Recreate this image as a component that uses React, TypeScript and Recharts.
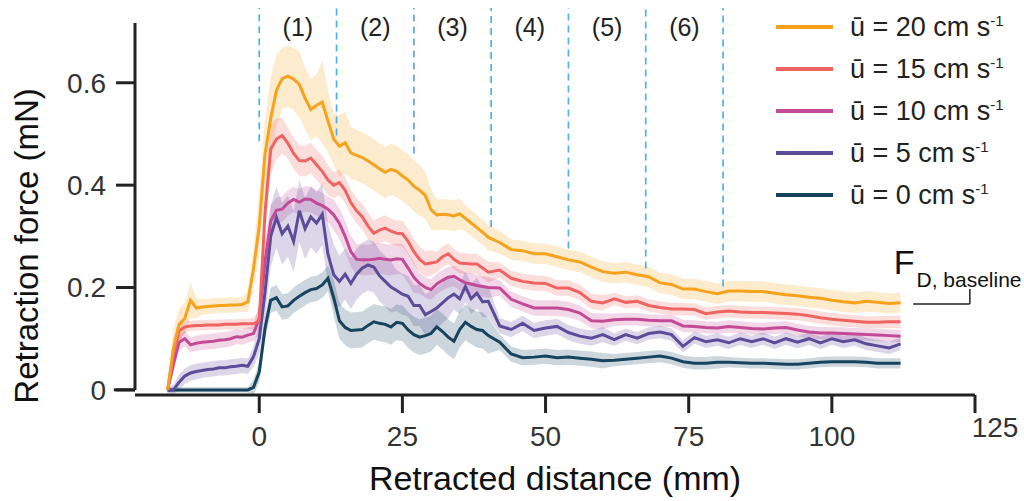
import React from "react";
import {
  ComposedChart,
  Line,
  Area,
  XAxis,
  YAxis,
  ReferenceLine,
  ReferenceArea,
  ReferenceDot,
} from "recharts";

// retracted distance (mm)
const distance = [
  -16, -15, -14, -13, -12, -11, -10, -9, -8, -7,
  -6, -5, -4, -3, -2, -1, 0, 1, 2, 3,
  4, 5, 6, 7, 8, 9, 10, 11, 12, 13,
  14, 15, 16, 17, 18, 19, 20, 21, 22, 23,
  24, 25, 26, 27, 28, 29, 30, 31, 32, 33,
  34, 35, 36, 37, 38, 39, 40,
  42, 44, 46, 48, 50, 52, 54, 56, 58, 60,
  62, 64, 66, 68, 70, 72, 74, 76, 78, 80,
  82, 84, 86, 88, 90, 92, 94, 96, 98, 100,
  102, 104, 106, 108, 110, 112,
];

// mean retraction force (mN) and its spread, per flow speed
const u20 = [
  0, 0.08, 0.128, 0.14, 0.175, 0.16, 0.162, 0.163, 0.164, 0.165,
  0.165, 0.166, 0.166, 0.167, 0.172, 0.237, 0.32, 0.46, 0.53, 0.585,
  0.608, 0.613, 0.607, 0.597, 0.57, 0.548, 0.556, 0.562, 0.525, 0.49,
  0.476, 0.483, 0.463, 0.458, 0.454, 0.447, 0.44, 0.432, 0.425, 0.431,
  0.427, 0.418, 0.41, 0.398, 0.39, 0.38, 0.352, 0.342, 0.343, 0.342,
  0.34, 0.344, 0.335, 0.326, 0.317, 0.308, 0.298,
  0.288, 0.274, 0.272, 0.266, 0.266, 0.26, 0.254, 0.25, 0.24, 0.231,
  0.228, 0.23, 0.225, 0.221, 0.209, 0.206, 0.197, 0.197, 0.192, 0.188,
  0.193, 0.193, 0.192, 0.192, 0.189, 0.186, 0.184, 0.181, 0.179, 0.175,
  0.172, 0.17, 0.173, 0.171, 0.169, 0.17,
];
const u20Spread = [
  0.01, 0.04, 0.03, 0.03, 0.035, 0.02, 0.015, 0.015, 0.015, 0.015,
  0.015, 0.015, 0.015, 0.015, 0.02, 0.04, 0.06, 0.07, 0.08, 0.07,
  0.06, 0.06, 0.06, 0.065, 0.06, 0.06, 0.06, 0.08, 0.06, 0.05,
  0.06, 0.06, 0.05, 0.05, 0.05, 0.05, 0.05, 0.05, 0.05, 0.05,
  0.05, 0.05, 0.05, 0.05, 0.05, 0.045, 0.04, 0.03, 0.03, 0.03,
  0.03, 0.03, 0.025, 0.025, 0.025, 0.025, 0.025,
  0.022, 0.02, 0.02, 0.02, 0.02, 0.02, 0.02, 0.02, 0.02, 0.02,
  0.02, 0.02, 0.02, 0.02, 0.02, 0.02, 0.02, 0.02, 0.02, 0.02,
  0.02, 0.02, 0.02, 0.02, 0.02, 0.02, 0.02, 0.02, 0.02, 0.02,
  0.02, 0.02, 0.02, 0.02, 0.02, 0.02,
];

const u15 = [
  0, 0.07, 0.115, 0.123, 0.125, 0.126, 0.126, 0.127, 0.127, 0.127,
  0.128, 0.128, 0.128, 0.129, 0.129, 0.129, 0.135, 0.345, 0.47, 0.49,
  0.497, 0.482, 0.462, 0.448, 0.447, 0.453, 0.44, 0.427, 0.41, 0.4,
  0.405, 0.39, 0.366, 0.35, 0.338, 0.32, 0.306, 0.312, 0.316, 0.31,
  0.306, 0.305, 0.29, 0.27, 0.255, 0.246, 0.248, 0.25, 0.26, 0.266,
  0.255, 0.248, 0.247, 0.246, 0.246, 0.238, 0.23,
  0.234, 0.218, 0.212, 0.209, 0.208, 0.199, 0.199, 0.19, 0.173, 0.17,
  0.178, 0.171, 0.173, 0.165, 0.161, 0.158, 0.158, 0.157, 0.149, 0.152,
  0.154, 0.152, 0.151, 0.151, 0.15, 0.149, 0.148, 0.145, 0.141, 0.138,
  0.136, 0.134, 0.132, 0.132, 0.133, 0.133,
];
const u15Spread = [
  0.005, 0.03, 0.02, 0.012, 0.01, 0.01, 0.01, 0.01, 0.01, 0.01,
  0.01, 0.01, 0.01, 0.01, 0.01, 0.012, 0.02, 0.05, 0.05, 0.04,
  0.035, 0.03, 0.03, 0.03, 0.03, 0.03, 0.03, 0.03, 0.03, 0.025,
  0.025, 0.025, 0.025, 0.025, 0.025, 0.025, 0.025, 0.025, 0.025, 0.025,
  0.025, 0.025, 0.025, 0.025, 0.025, 0.025, 0.025, 0.02, 0.02, 0.02,
  0.02, 0.02, 0.02, 0.02, 0.02, 0.02, 0.02,
  0.015, 0.015, 0.015, 0.015, 0.015, 0.015, 0.015, 0.015, 0.015, 0.015,
  0.012, 0.012, 0.012, 0.012, 0.012, 0.012, 0.012, 0.012, 0.012, 0.012,
  0.012, 0.012, 0.012, 0.012, 0.012, 0.012, 0.012, 0.012, 0.012, 0.012,
  0.012, 0.012, 0.012, 0.012, 0.012, 0.012,
];

const u10 = [
  0, 0.05, 0.093, 0.1, 0.088, 0.091, 0.093, 0.094, 0.095, 0.097,
  0.098, 0.1, 0.104, 0.103, 0.107, 0.11, 0.14, 0.25, 0.33, 0.351,
  0.353, 0.365, 0.372, 0.367, 0.373, 0.372, 0.365, 0.36, 0.353, 0.342,
  0.325, 0.3, 0.27, 0.255, 0.254, 0.254, 0.255, 0.257, 0.255, 0.254,
  0.256, 0.255, 0.238, 0.22, 0.208, 0.2, 0.196, 0.207, 0.214, 0.22,
  0.222, 0.215, 0.209, 0.207, 0.204, 0.202, 0.2,
  0.199, 0.177, 0.168, 0.16, 0.16, 0.16, 0.157, 0.15, 0.135, 0.134,
  0.137, 0.138, 0.138, 0.136, 0.135, 0.135, 0.125, 0.124, 0.122, 0.121,
  0.124, 0.122, 0.12, 0.119, 0.121, 0.122, 0.117, 0.113, 0.111, 0.111,
  0.11, 0.109, 0.108, 0.107, 0.106, 0.105,
];
const u10Spread = [
  0.005, 0.02, 0.015, 0.015, 0.015, 0.015, 0.015, 0.015, 0.015, 0.015,
  0.015, 0.015, 0.015, 0.015, 0.015, 0.015, 0.03, 0.04, 0.03, 0.025,
  0.025, 0.025, 0.025, 0.025, 0.025, 0.025, 0.025, 0.025, 0.025, 0.03,
  0.03, 0.03, 0.03, 0.03, 0.03, 0.03, 0.03, 0.03, 0.03, 0.03,
  0.03, 0.03, 0.03, 0.03, 0.02, 0.02, 0.02, 0.02, 0.02, 0.02,
  0.02, 0.02, 0.02, 0.02, 0.02, 0.02, 0.02,
  0.015, 0.015, 0.015, 0.015, 0.015, 0.015, 0.015, 0.015, 0.015, 0.015,
  0.012, 0.012, 0.012, 0.012, 0.012, 0.012, 0.012, 0.012, 0.012, 0.012,
  0.012, 0.012, 0.012, 0.012, 0.012, 0.012, 0.012, 0.012, 0.012, 0.012,
  0.012, 0.012, 0.012, 0.012, 0.012, 0.012,
];

const u5 = [
  0, 0, 0.015, 0.027, 0.033, 0.036, 0.038, 0.04, 0.041, 0.043,
  0.043, 0.045, 0.046, 0.048, 0.046, 0.065, 0.1, 0.19, 0.3, 0.337,
  0.305, 0.32, 0.29, 0.35, 0.315, 0.338, 0.326, 0.343, 0.265, 0.225,
  0.212, 0.226, 0.208, 0.226, 0.238, 0.244, 0.24, 0.223, 0.212, 0.201,
  0.194, 0.187, 0.183, 0.165, 0.165, 0.147, 0.153, 0.16, 0.17, 0.18,
  0.187, 0.178, 0.202, 0.178, 0.189, 0.172, 0.173,
  0.125, 0.118, 0.13, 0.116, 0.121, 0.124, 0.112, 0.105, 0.101, 0.108,
  0.098, 0.108, 0.101, 0.11, 0.113, 0.108, 0.085, 0.102, 0.094, 0.098,
  0.092, 0.1, 0.094, 0.1, 0.092, 0.1, 0.093, 0.1, 0.092, 0.1,
  0.094, 0.098, 0.09, 0.086, 0.082, 0.09,
];
const u5Spread = [
  0.005, 0.01, 0.015, 0.015, 0.015, 0.015, 0.015, 0.015, 0.015, 0.015,
  0.015, 0.015, 0.015, 0.015, 0.015, 0.02, 0.03, 0.05, 0.06, 0.06,
  0.06, 0.06, 0.06, 0.06, 0.06, 0.06, 0.06, 0.06, 0.06, 0.06,
  0.05, 0.05, 0.05, 0.05, 0.05, 0.05, 0.05, 0.05, 0.05, 0.05,
  0.04, 0.04, 0.04, 0.04, 0.04, 0.04, 0.04, 0.04, 0.04, 0.04,
  0.03, 0.03, 0.03, 0.03, 0.03, 0.03, 0.03,
  0.015, 0.015, 0.015, 0.015, 0.015, 0.015, 0.015, 0.015, 0.015, 0.015,
  0.012, 0.012, 0.012, 0.012, 0.012, 0.012, 0.012, 0.012, 0.012, 0.012,
  0.012, 0.012, 0.012, 0.012, 0.012, 0.012, 0.012, 0.012, 0.012, 0.012,
  0.012, 0.012, 0.012, 0.012, 0.012, 0.012,
];

const u0 = [
  0, 0, 0, 0, 0, 0, 0, 0, 0, 0,
  0, 0, 0, 0, 0, 0.005, 0.035, 0.12, 0.175, 0.18,
  0.162, 0.164, 0.175, 0.183, 0.19, 0.196, 0.198, 0.205, 0.218, 0.18,
  0.135, 0.122, 0.116, 0.117, 0.118, 0.126, 0.133, 0.13, 0.128, 0.123,
  0.132, 0.13, 0.117, 0.108, 0.103, 0.106, 0.11, 0.123, 0.114, 0.103,
  0.095, 0.118, 0.132, 0.124, 0.118, 0.116, 0.106,
  0.093, 0.07, 0.063, 0.064, 0.066, 0.063, 0.064, 0.062, 0.06, 0.057,
  0.058, 0.06, 0.062, 0.064, 0.066, 0.062, 0.055, 0.052, 0.052, 0.054,
  0.054, 0.053, 0.052, 0.052, 0.051, 0.05, 0.05, 0.052, 0.054, 0.055,
  0.055, 0.055, 0.054, 0.052, 0.052, 0.052,
];
const u0Spread = [
  0.005, 0.005, 0.005, 0.005, 0.005, 0.005, 0.005, 0.005, 0.005, 0.005,
  0.005, 0.005, 0.005, 0.005, 0.005, 0.015, 0.02, 0.025, 0.025, 0.025,
  0.025, 0.025, 0.025, 0.025, 0.025, 0.025, 0.025, 0.025, 0.025, 0.035,
  0.035, 0.035, 0.035, 0.035, 0.035, 0.035, 0.035, 0.035, 0.035, 0.035,
  0.035, 0.035, 0.035, 0.035, 0.035, 0.035, 0.035, 0.035, 0.035, 0.035,
  0.035, 0.035, 0.035, 0.035, 0.035, 0.035, 0.035,
  0.015, 0.015, 0.015, 0.015, 0.015, 0.015, 0.015, 0.015, 0.015, 0.015,
  0.012, 0.012, 0.012, 0.012, 0.012, 0.012, 0.012, 0.012, 0.012, 0.012,
  0.01, 0.01, 0.01, 0.01, 0.01, 0.01, 0.01, 0.01, 0.01, 0.01,
  0.01, 0.01, 0.01, 0.01, 0.01, 0.01,
];

// phase boundaries (mm) and the force level where each dashed line stops
const phaseEdges = [0, 13.5, 27, 40.5, 54, 67.5, 81];
const phaseEdgeStops = [0.486, 0.497, 0.462, 0.318, 0.276, 0.237, 0.202];
const phaseLabels = ["(1)", "(2)", "(3)", "(4)", "(5)", "(6)"];

const xTicks = [0, 25, 50, 75, 100, 125];
const yTicks = [0, 0.2, 0.4, 0.6];

const series = [
  { key: "u20", speed: "20", color: "#F6A21C", mean: u20, spread: u20Spread },
  { key: "u15", speed: "15", color: "#EF6361", mean: u15, spread: u15Spread },
  { key: "u10", speed: "10", color: "#C34A97", mean: u10, spread: u10Spread },
  { key: "u5", speed: "5", color: "#5C4B99", mean: u5, spread: u5Spread },
  { key: "u0", speed: "0", color: "#16435E", mean: u0, spread: u0Spread },
];

const data = distance.map((x, i) => {
  const row: Record<string, number | number[]> = { x };
  series.forEach((s) => {
    row[s.key] = s.mean[i];
    row[s.key + "Band"] = [s.mean[i] - s.spread[i], s.mean[i] + s.spread[i]];
  });
  return row;
});

const FONT = "'Liberation Sans', Arial, Helvetica, sans-serif";
const INK = "#222";

function DistanceTick({ x, y, payload }: any) {
  const last = payload.value === 125;
  return (
    <text
      x={x + (last ? 20 : 0)}
      y={y + (last ? 22 : 31)}
      textAnchor="middle"
      fontSize={28}
      fill="#333"
      fontFamily={FONT}
    >
      {payload.value}
    </text>
  );
}

function SpeedLegend() {
  return (
    <div
      style={{
        position: "absolute",
        left: 776,
        top: 6,
        fontFamily: FONT,
        color: INK,
      }}
    >
      {series.map((s) => (
        <div
          key={s.key}
          style={{ display: "flex", alignItems: "center", height: 42 }}
        >
          <svg width={57} height={6} style={{ marginRight: 17 }}>
            <line x1={0} x2={57} y1={3} y2={3} stroke={s.color} strokeWidth={4} />
          </svg>
          <span style={{ fontSize: 27, whiteSpace: "nowrap" }}>
            {"\u016B = " + s.speed + " cm s"}
            <sup style={{ fontSize: 15 }}>-1</sup>
          </span>
        </div>
      ))}
    </div>
  );
}

function BaselineLabel({ viewBox }: any) {
  const { x, y } = viewBox;
  return (
    <text x={x} y={y} fontFamily={FONT} fill="#111">
      <tspan fontSize={34}>F</tspan>
      <tspan fontSize={21} dx={2} dy={13}>
        D, baseline
      </tspan>
    </text>
  );
}

export default function App() {
  return (
    <div
      style={{
        position: "absolute",
        left: 0,
        top: 0,
        width: 1024,
        height: 501,
        fontFamily: FONT,
      }}
    >
      <ComposedChart
        width={1024}
        height={501}
        data={data}
        margin={{ top: 6, right: 49, bottom: 0, left: 0 }}
      >
        <XAxis
          type="number"
          dataKey="x"
          domain={[-21.7, 125]}
          ticks={xTicks}
          allowDataOverflow
          height={106}
          tickSize={18}
          axisLine={{ stroke: INK, strokeWidth: 3 }}
          tickLine={{ stroke: INK, strokeWidth: 3 }}
          tick={<DistanceTick />}
          label={{
            value: "Retracted distance (mm)",
            position: "insideBottom",
            offset: 11,
            fontSize: 34,
            fill: "#111",
          }}
        />
        <YAxis
          type="number"
          domain={[0, 0.75]}
          ticks={yTicks}
          width={135}
          axisLine={false}
          tickSize={19}
          tickMargin={10}
          tickLine={{ stroke: INK, strokeWidth: 3 }}
          tick={{ fontSize: 28, fill: "#333" }}
          tickFormatter={(v: number) => (v === 0 ? "0" : v.toFixed(1))}
          label={{
            content: () => (
              <text
                x={38}
                y={246}
                transform="rotate(-90 38 246)"
                textAnchor="middle"
                fontSize={33}
                fill="#111"
                fontFamily={FONT}
              >
                Retraction force (mN)
              </text>
            ),
          }}
        />

        {/* y axis line stops short of the top, x axis pokes out left */}
        <ReferenceLine
          segment={[{ x: -21.7, y: 0 }, { x: -21.7, y: 0.717 }]}
          stroke={INK}
          strokeWidth={3}
          ifOverflow="visible"
        />
        <ReferenceLine
          segment={[{ x: -25.4, y: 0 }, { x: -21.7, y: 0 }]}
          stroke={INK}
          strokeWidth={3}
          ifOverflow="visible"
        />

        {phaseEdges.map((e, i) => (
          <ReferenceLine
            key={"edge" + i}
            segment={[{ x: e, y: phaseEdgeStops[i] }, { x: e, y: 0.746 }]}
            stroke="#4FB2E4"
            strokeWidth={1.7}
            strokeDasharray="7 5"
            ifOverflow="visible"
          />
        ))}
        {phaseLabels.map((lab, i) => (
          <ReferenceArea
            key={lab}
            x1={phaseEdges[i]}
            x2={phaseEdges[i + 1]}
            y1={0.68}
            y2={0.738}
            fill="none"
            stroke="none"
            label={{ value: lab, position: "center", fontSize: 25, fill: INK }}
          />
        ))}

        {series.map((s) => (
          <Area
            key={s.key + "Band"}
            dataKey={s.key + "Band"}
            type="linear"
            stroke="none"
            fill={s.color}
            fillOpacity={0.22}
            isAnimationActive={false}
          />
        ))}
        {[...series].reverse().map((s) => (
          <Line
            key={s.key}
            dataKey={s.key}
            type="linear"
            stroke={s.color}
            strokeWidth={3}
            dot={false}
            isAnimationActive={false}
          />
        ))}

        <ReferenceLine
          segment={[{ x: 114.2, y: 0.168 }, { x: 124.1, y: 0.168 }]}
          stroke={INK}
          strokeWidth={1.5}
          ifOverflow="visible"
        />
        <ReferenceLine
          segment={[{ x: 124.1, y: 0.168 }, { x: 124.1, y: 0.197 }]}
          stroke={INK}
          strokeWidth={1.5}
          ifOverflow="visible"
        />
        <ReferenceDot
          x={110.8}
          y={0.227}
          r={0}
          fill="none"
          stroke="none"
          ifOverflow="visible"
          label={(props: any) => <BaselineLabel {...props} />}
        />
      </ComposedChart>
      <SpeedLegend />
    </div>
  );
}
